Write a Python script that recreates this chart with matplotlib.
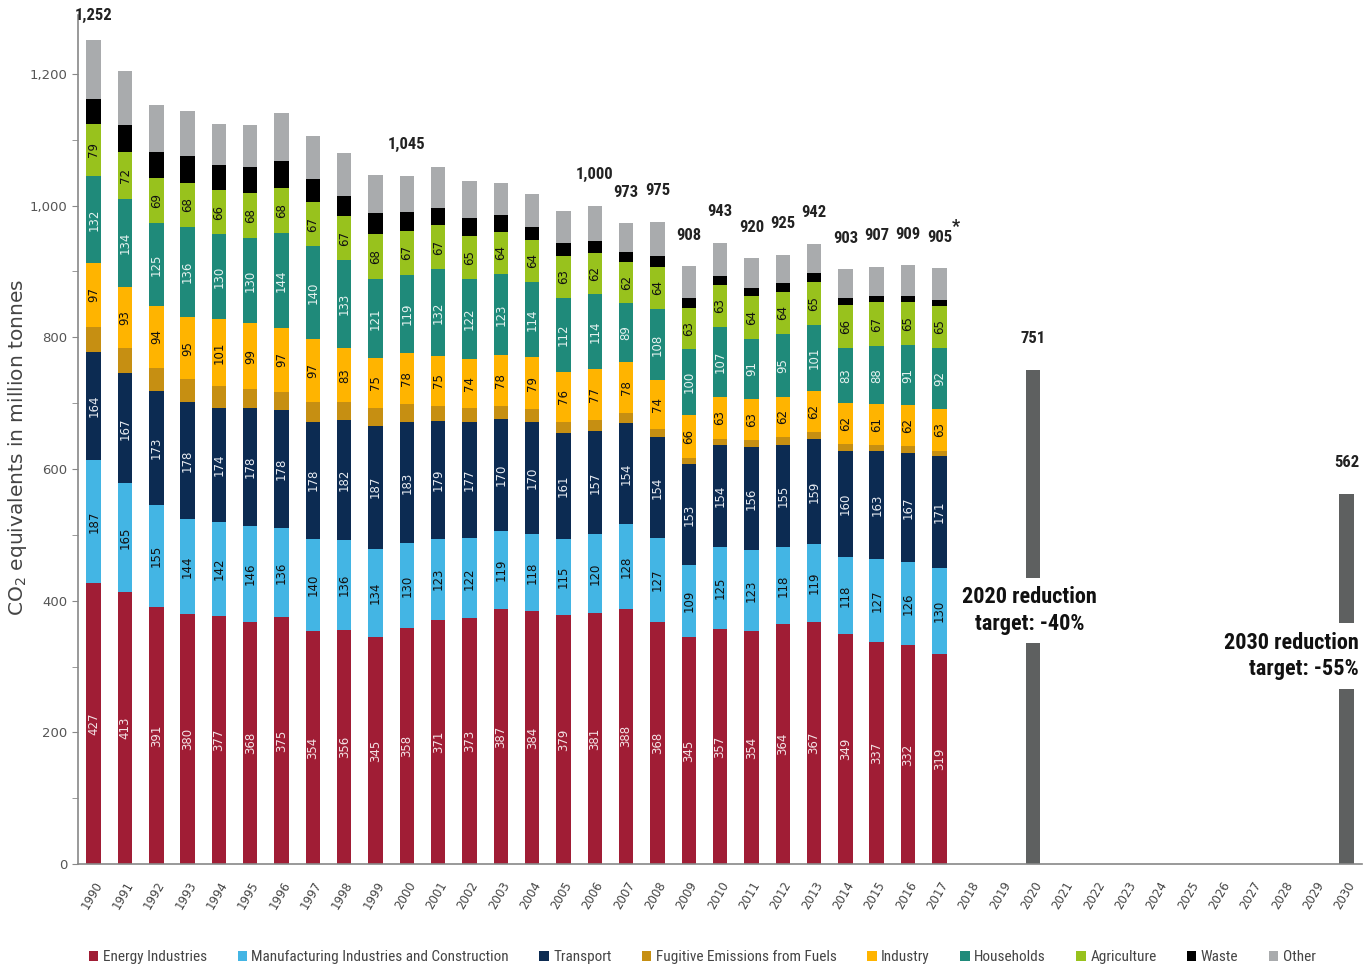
import os
import numpy as np
import matplotlib.pyplot as plt
from matplotlib import font_manager
from matplotlib.font_manager import FontProperties

years = list(range(1990, 2031))
hist_years = list(range(1990, 2018))

energy = [427, 413, 391, 380, 377, 368, 375, 354, 356, 345, 358, 371, 373, 387,
          384, 379, 381, 388, 368, 345, 357, 354, 364, 367, 349, 337, 332, 319]
manufacturing = [187, 165, 155, 144, 142, 146, 136, 140, 136, 134, 130, 123, 122, 119,
                 118, 115, 120, 128, 127, 109, 125, 123, 118, 119, 118, 127, 126, 130]
transport = [164, 167, 173, 178, 174, 178, 178, 178, 182, 187, 183, 179, 177, 170,
             170, 161, 157, 154, 154, 153, 154, 156, 155, 159, 160, 163, 167, 171]
fugitive = [38, 38, 35, 34, 33, 30, 28, 29, 27, 27, 27, 23, 21, 19,
            19, 17, 17, 15, 12, 9, 10, 11, 11, 11, 11, 10, 10, 8]
industry = [97, 93, 94, 95, 101, 99, 97, 97, 83, 75, 78, 75, 74, 78,
            79, 76, 77, 78, 74, 66, 63, 63, 62, 62, 62, 61, 62, 63]
households = [132, 134, 125, 136, 130, 130, 144, 140, 133, 121, 119, 132, 122, 123,
              114, 112, 114, 89, 108, 100, 107, 91, 95, 101, 83, 88, 91, 92]
agriculture = [79, 72, 69, 68, 66, 68, 68, 67, 67, 68, 67, 67, 65, 64,
               64, 63, 62, 62, 64, 63, 63, 64, 64, 65, 66, 67, 65, 65]
waste = [38, 40, 39, 41, 38, 39, 41, 35, 31, 32, 28, 27, 27, 25,
         20, 20, 18, 16, 16, 15, 14, 13, 13, 13, 11, 10, 10, 9]
other = [90, 83, 71, 67, 63, 64, 73, 65, 65, 57, 55, 61, 57, 49,
         49, 48, 54, 43, 52, 48, 50, 45, 43, 45, 43, 44, 46, 48]

sector_names = ['Energy Industries', 'Manufacturing Industries and Construction',
                'Transport', 'Fugitive Emissions from Fuels', 'Industry',
                'Households', 'Agriculture', 'Waste', 'Other']
sector_values = [energy, manufacturing, transport, fugitive, industry,
                 households, agriculture, waste, other]
sector_colors = ['#a01d35', '#43b5e4', '#0c2b52', '#c68f12', '#ffb400',
                 '#1f8a7a', '#98c21d', '#000000', '#a9abad']
# which stacks get their value written inside, and in which colour
label_colors = ['#f3e3e6', '#111111', '#e8ecf2', None, '#111111',
                '#e6f2f0', '#111111', None, None]

total_label_years = [1990, 2000] + list(range(2006, 2018))
target_years = [2020, 2030]
target_values = [751, 562]
target_texts = ['2020 reduction\ntarget: -40%', '2030 reduction\ntarget: -55%']


def find_face(candidates):
    """Return the first font file whose name matches one of the candidates."""
    files = {os.path.basename(p).lower(): p for p in font_manager.findSystemFonts()}
    for c in candidates:
        for name, path in files.items():
            if name.startswith(c):
                return path
    return None


bold_path = find_face(['liberationsansnarrow-bold.', 'robotocondensed-bold.',
                       'dejavusanscondensed-bold.', 'opensans-condbold'])
reg_path = find_face(['liberationsansnarrow-regular', 'robotocondensed-regular',
                      'dejavusanscondensed.', 'opensans-condlight'])


def narrow_font(size, bold=False):
    path = bold_path if bold else reg_path
    if path:
        return FontProperties(fname=path, size=size)
    return FontProperties(family='DejaVu Sans', size=size * 0.85,
                          weight='bold' if bold else 'normal')


pos = {y: i for i, y in enumerate(years)}
x_hist = np.array([pos[y] for y in hist_years])
width = 0.46

fig, ax = plt.subplots(figsize=(13.69, 9.72), dpi=100)
fig.subplots_adjust(left=0.057, right=0.995, bottom=0.111, top=0.985)

bottom = np.zeros(len(hist_years))
for name, vals, col, lcol in zip(sector_names, sector_values, sector_colors, label_colors):
    vals = np.array(vals)
    ax.bar(x_hist, vals, width, bottom=bottom, color=col, label=name, zorder=2)
    if lcol is not None:
        for xi, b, v in zip(x_hist, bottom, vals):
            ax.text(xi, b + v / 2, str(v), rotation=90, ha='center', va='center',
                    fontsize=8.5, color=lcol, zorder=3)
    bottom = bottom + vals

totals = bottom.astype(int)
for yr in total_label_years:
    i = hist_years.index(yr)
    off = 12 if yr == 1990 else 17
    ax.annotate(f'{totals[i]:,}', (x_hist[i], totals[i]), xytext=(0, off),
                textcoords='offset points', ha='center', va='bottom',
                fontproperties=narrow_font(12, bold=True), color='#222222')
    if yr == 2017:
        ax.annotate('*', (x_hist[i], totals[i]), xytext=(9, off + 6), textcoords='offset points',
                    ha='left', va='bottom', fontproperties=narrow_font(13, bold=True),
                    color='#222222')

# reduction targets
for yr, val in zip(target_years, target_values):
    xi = pos[yr]
    ax.bar(xi, val, width, color='#5e6060', zorder=2)
    ax.annotate(str(val), (xi, val), xytext=(0, 17), textcoords='offset points',
                ha='center', va='bottom', fontproperties=narrow_font(12, bold=True),
                color='#222222')

ax.text(pos[2020] - 0.12, 385, target_texts[0], ha='center', va='center',
        multialignment='center', fontproperties=narrow_font(16, bold=True), color='#111111',
        linespacing=1.25, bbox=dict(facecolor='white', edgecolor='none', pad=6), zorder=4)
ax.text(pos[2030] + 0.38, 316, target_texts[1], ha='right', va='center',
        multialignment='right', fontproperties=narrow_font(16, bold=True), color='#111111',
        linespacing=1.25, bbox=dict(facecolor='white', edgecolor='none', pad=6), zorder=4,
        clip_on=False)

ax.set_xlim(-0.5, len(years) - 0.5)
ax.set_ylim(0, 1290)
ax.set_yticks(np.arange(0, 1201, 200))
ax.set_yticklabels([f'{v:,}' for v in range(0, 1201, 200)])
ax.set_yticks(np.arange(100, 1300, 200), minor=True)
ax.tick_params(axis='y', which='both', direction='out', length=4, color='#888888',
               labelsize=9.5, labelcolor='#555555')
ax.set_xticks(range(len(years)))
ax.set_xticklabels([str(y) for y in years], rotation=60, ha='right',
                   rotation_mode='anchor', fontsize=8.5, color='#444444')
ax.tick_params(axis='x', length=0, pad=11)

for side in ['top', 'right']:
    ax.spines[side].set_visible(False)
for side in ['left', 'bottom']:
    ax.spines[side].set_color('#888888')
    ax.spines[side].set_linewidth(1.2)

ax.set_ylabel('CO$_2$ equivalents in million tonnes', fontsize=14.5, color='#444444')
ax.yaxis.set_label_coords(-0.038, 0.49)

handles, labels = ax.get_legend_handles_labels()
fig.legend(handles, labels, loc='lower center', bbox_to_anchor=(0.513, -0.006), ncol=9,
           frameon=False, prop=narrow_font(11), handlelength=0.6,
           handleheight=0.6, handletextpad=0.3, columnspacing=2.0, labelcolor='#444444')

plt.savefig('out.png', dpi=100)
